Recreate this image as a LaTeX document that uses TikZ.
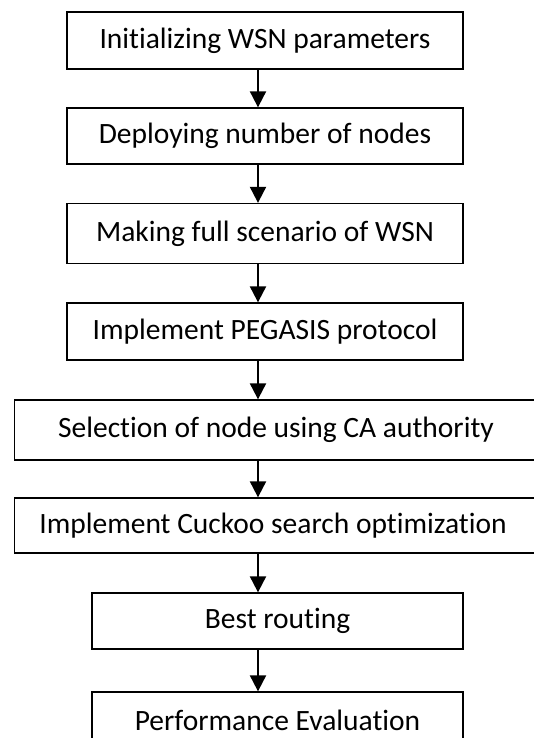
\documentclass[tikz,border=0pt]{standalone}
\usepackage{fontspec}
\setmainfont{Carlito}[Ligatures=NoCommon]
\usetikzlibrary{arrows.meta}

\begin{document}
\begin{tikzpicture}[x=1pt,y=1pt,
  stepbox/.style={draw=black, line width=1.3pt, rectangle, inner sep=0pt,
    font=\fontsize{29.5}{32}\selectfont},
  steptext/.style={font=\fontsize{29.5}{32}\selectfont, inner sep=0pt},
  flow/.style={line width=2pt, -{Triangle[length=16pt,width=16pt]}}
]
\useasboundingbox (0,0) rectangle (533,-738);

\node[stepbox, minimum width=396pt, minimum height=57pt] (b1) at (265,-40.5) {Initializing WSN parameters};
\node[stepbox, minimum width=396pt, minimum height=56pt] (b2) at (265,-136) {Deploying number of nodes};
\node[stepbox, minimum width=396pt, minimum height=60pt] (b3) at (265,-233.5) {Making full scenario of WSN};
\node[stepbox, minimum width=396pt, minimum height=57pt] (b4) at (265,-331.5) {Implement PEGASIS protocol};
\node[stepbox, minimum width=530pt, minimum height=60pt] (b5) at (279.5,-430) {};
\node[steptext] (t5) at (276,-430) {Selection of node using CA authority};
\node[stepbox, minimum width=530pt, minimum height=55pt] (b6) at (279.5,-525.5) {};
\node[steptext] (t6) at (273,-525.5) {Implement Cuckoo search optimization};
\node[stepbox, minimum width=371pt, minimum height=56pt] (b7) at (277.5,-621) {Best routing};
\node[stepbox, minimum width=371pt, minimum height=56pt] (b8) at (277.5,-720) {Performance Evaluation};

% the arrows all run down one vertical line
\coordinate (ax) at (258,0);
\foreach \a/\b in {b1/b2,b2/b3,b3/b4,b4/b5,b5/b6,b6/b7,b7/b8}
  \draw[flow] (\a.south -| ax) -- (\b.north -| ax);
\end{tikzpicture}
\end{document}
